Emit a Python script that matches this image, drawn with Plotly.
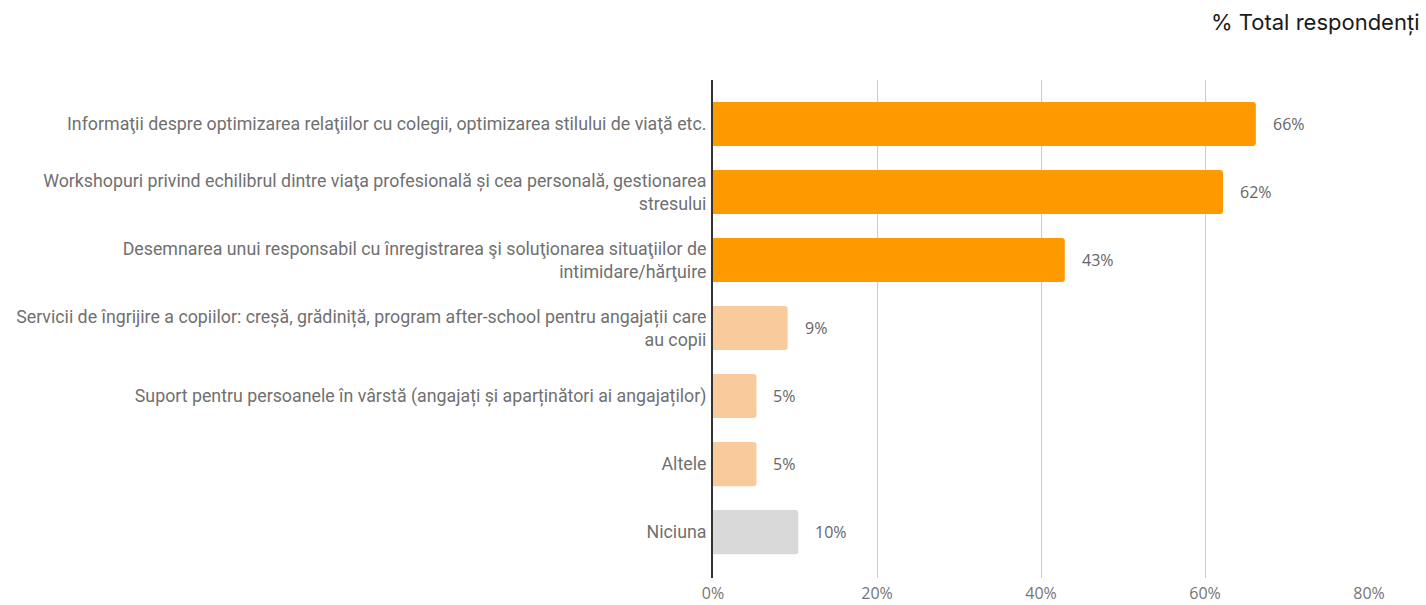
import plotly.graph_objects as go

# Survey answers (top to bottom) and share of respondents, in %
categories = [
    "Informaţii despre optimizarea relaţiilor cu colegii, optimizarea stilului de viaţă etc.",
    "Workshopuri privind echilibrul dintre viaţa profesională și cea personală, gestionarea<br>stresului",
    "Desemnarea unui responsabil cu înregistrarea şi soluţionarea situaţiilor de<br>intimidare/hărţuire",
    "Servicii de îngrijire a copiilor: creșă, grădiniță, program after-school pentru angajații care<br>au copii",
    "Suport pentru persoanele în vârstă (angajați și aparținători ai angajaților)",
    "Altele",
    "Niciuna",
]
values = [66.2, 62.2, 42.9, 9.1, 5.3, 5.3, 10.4]
bar_colors = ["#FF9900", "#FF9900", "#FF9900", "#F9CB9C", "#F9CB9C", "#F9CB9C", "#D9D9D9"]
x_ticks = [0, 20, 40, 60, 80]
x_tick_labels = ["0%", "20%", "40%", "60%", "80%"]
title_text = "% Total respondenți"

fig = go.Figure(
    go.Bar(
        x=values,
        y=categories,
        orientation="h",
        marker=dict(color=bar_colors, line=dict(width=0), cornerradius=3),
        width=0.65,
        hoverinfo="skip",
    )
)

# value labels to the right of each bar
for v, c in zip(values, categories):
    fig.add_annotation(
        x=v, y=c, xref="x", yref="y",
        text=f"{round(v)}%",
        showarrow=False, xanchor="left", yanchor="middle", xshift=15,
        font=dict(family="Open Sans, Noto Sans, sans-serif", size=16, color="#666666"),
    )

# chart caption, top right corner of the page
fig.add_annotation(
    x=1, y=1, xref="paper", yref="paper", xanchor="right", yanchor="top",
    xshift=52, yshift=73,
    text=title_text, showarrow=False,
    font=dict(family="Inter, Lato, sans-serif", size=22, color="#1a1a1a"),
)

fig.update_layout(
    width=1426, height=605,
    margin=dict(l=713, r=57, t=80, b=27, autoexpand=False),
    paper_bgcolor="white", plot_bgcolor="white",
    showlegend=False,
)

fig.update_xaxes(
    range=[0, 80], tickvals=x_ticks, ticktext=x_tick_labels,
    showgrid=True, gridcolor="#CCCCCC", gridwidth=1,
    zeroline=False, showline=False, automargin=False,
    tickfont=dict(family="Open Sans, Noto Sans, sans-serif", size=16, color="#757575"),
    ticklabelstandoff=4, fixedrange=True,
)
fig.update_yaxes(
    type="category", categoryorder="array", categoryarray=categories,
    range=[6.676, -0.647], automargin=False,
    showgrid=False, zeroline=False,
    showline=True, linecolor="#333333", linewidth=2,
    tickfont=dict(family="Roboto, sans-serif", size=17.8, color="#707070"),
    ticks="", ticklabelstandoff=1, fixedrange=True,
)

fig.write_html("out.html")
